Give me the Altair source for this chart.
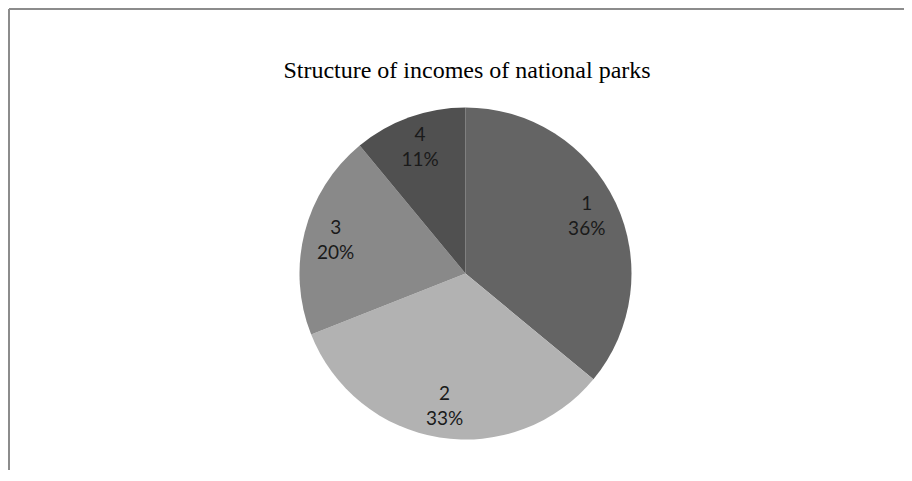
import altair as alt
import pandas as pd

categories = ["1", "2", "3", "4"]
shares = [36, 33, 20, 11]
labels = ["1\n36%", "2\n33%", "3\n20%", "4\n11%"]
colors = ["#646464", "#b2b2b2", "#898989", "#505050"]

df = pd.DataFrame({"cat": categories, "share": shares, "label": labels})

W, H = 896, 462
CX, CY = 456.5, 264.5
R = 166

base = alt.Chart(df)

pie = base.mark_arc(strokeWidth=0).encode(
    theta=alt.Theta("share:Q", stack=True),
    color=alt.Color("cat:N", scale=alt.Scale(domain=categories, range=colors), legend=None),
    order=alt.Order("cat:N", sort="ascending"),
    x=alt.value(CX),
    y=alt.value(CY),
    radius=alt.value(R),
)

text = base.mark_text(
    font="Lato", fontSize=19, color="#1a1a1a", lineBreak="\n", align="center",
    baseline="middle", lineHeight=25, dy=-12
).encode(
    theta=alt.Theta("share:Q", stack=True),
    order=alt.Order("cat:N", sort="ascending"),
    text="label:N",
    x=alt.value(CX),
    y=alt.value(CY),
    radius=alt.value(134),
)

title_df = pd.DataFrame({"t": ["Structure of incomes of national parks"]})
title = alt.Chart(title_df).mark_text(
    font="Liberation Serif", fontSize=24, color="#000000", align="center", baseline="middle"
).encode(text="t:N", x=alt.value(458), y=alt.value(62))

border_top = alt.Chart(title_df).mark_rule(color="#8c8c8c", strokeWidth=2).encode(
    x=alt.value(0), x2=alt.value(W + 20), y=alt.value(0)
)
border_left = alt.Chart(title_df).mark_rule(color="#8c8c8c", strokeWidth=2).encode(
    x=alt.value(0), y=alt.value(0), y2=alt.value(H + 20)
)

chart = alt.layer(border_top, border_left, pie, text, title).properties(
    width=W, height=H,
    autosize=alt.AutoSizeParams(type="fit", contains="padding"),
    padding=0,
    background="#ffffff",
).configure_view(strokeWidth=0, stroke=None)

chart.save("out.html", embed_options={"renderer": "svg", "actions": False})
